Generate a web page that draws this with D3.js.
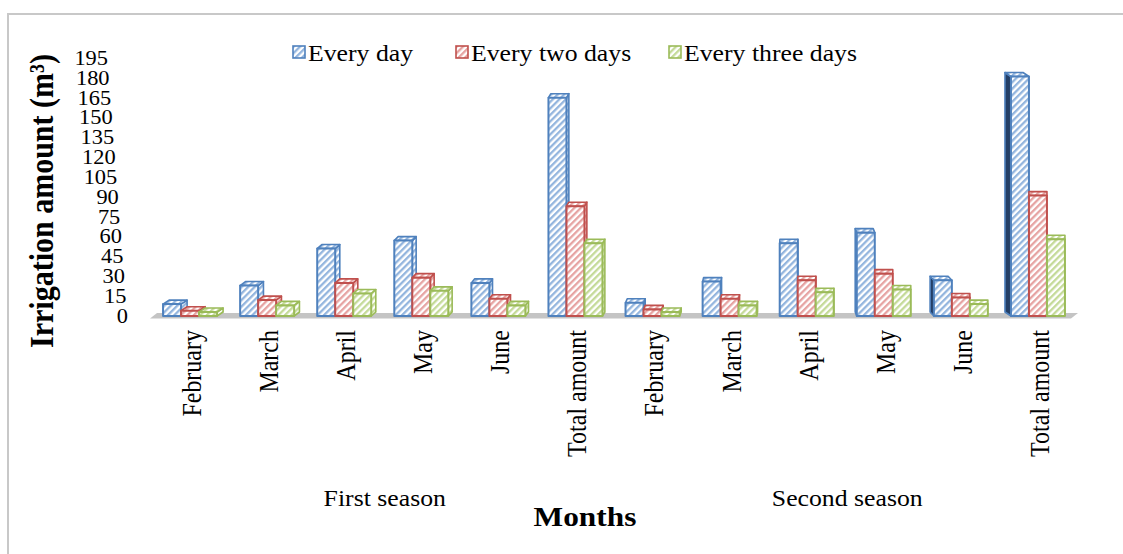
<!DOCTYPE html>
<html>
<head>
<meta charset="utf-8">
<script src="https://cdn.jsdelivr.net/npm/d3@7"></script>
<style>
  html, body { margin: 0; padding: 0; background: #ffffff; }
  svg { display: block; font-family: "Liberation Serif", "Times New Roman", serif; }
</style>
</head>
<body>
<svg id="chart" width="1123" height="554"></svg>
<script>
// ---- data -------------------------------------------------------------
const seasons = ["First season", "Second season"];
const months = ["February", "March", "April", "May", "June", "Total amount"];
const seriesNames = ["Every day", "Every two days", "Every three days"];

// irrigation amount (m3), first season months then second season months
const everyDay       = [9, 23, 51, 57, 25, 165,   10, 26, 55, 63, 27, 181];
const everyTwoDays   = [4, 12, 25, 29, 13, 83,     5, 13, 27, 32, 14, 91];
const everyThreeDays = [3,  8, 17, 19,  8, 55,     3,  8, 18, 20,  9, 58];

const yTickValues = [0, 15, 30, 45, 60, 75, 90, 105, 120, 135, 150, 165, 180, 195];

// ---- style ------------------------------------------------------------
const seriesColors = ["#4F81BD", "#C0504D", "#9BBB59"];
const stripeColors = ["#93B5DE", "#E6A3A2", "#C4DA98"];
const darkSide = "#243F66";
const SX = 1.12;          // horizontal text stretch
const VPX = 830, K = 0.0095, DY = -4;  // perspective of the 3-D boxes

const svg = d3.select("#chart");
const seriesValues = [everyDay, everyTwoDays, everyThreeDays];

// chart frame (top and left edges)
svg.append("path")
  .attr("d", "M8,554V14H1123")
  .attr("fill", "none").attr("stroke", "#C8C8C8").attr("stroke-width", 2);

// hatch fills
const defs = svg.append("defs");
seriesNames.forEach((s, i) => {
  const p = defs.append("pattern")
    .attr("id", "hatch" + i)
    .attr("patternUnits", "userSpaceOnUse")
    .attr("width", 4.6).attr("height", 4.6)
    .attr("patternTransform", "rotate(45)");
  p.append("rect").attr("width", 4.6).attr("height", 4.6).attr("fill", "#ffffff");
  p.append("rect").attr("width", 2.3).attr("height", 4.6).attr("fill", stripeColors[i]);
});

// ---- scales -----------------------------------------------------------
const slots = d3.range(seasons.length * months.length);
const x = d3.scaleBand().domain(slots).range([153.5, 1078.5]);
const y = d3.scaleLinear().domain([0, 195]).range([316, 58]);
const monthOf = k => months[k % months.length];

// floor of the plot
svg.append("path")
  .attr("d", `M150,318.5L1071,318.5L1078,313L157,313Z`)
  .attr("fill", "#C4C4C4");

// ---- y axis (slanted by perspective) ----------------------------------
const tickShift = d3.scaleLinear().domain([0, 195]).range([128, 108]);
const yAxis = svg.append("g")
  .call(d3.axisLeft(y).tickValues(yTickValues).tickSize(0).tickPadding(0));
yAxis.select(".domain").remove();
yAxis.selectAll(".tick")
  .attr("transform", d => `translate(${tickShift(d)},${y(d)}) scale(${SX},1)`);
yAxis.selectAll(".tick text")
  .attr("x", 0).attr("dy", "0.34em")
  .attr("fill", "#000").attr("font-size", 20)
  .attr("font-family", "Liberation Serif, Times New Roman, serif");

// ---- bars -------------------------------------------------------------
const groups = svg.append("g").selectAll("g.slot")
  .data(slots).join("g").attr("class", "slot");

groups.each(function (k) {
  const g = d3.select(this);
  const cx = x(k) + x.bandwidth() / 2;
  const dx = (VPX - cx) * K;
  const inner = d3.scaleBand().domain(d3.range(seriesNames.length))
    .range([cx - 29, cx + 25]);
  seriesNames.forEach((s, j) => {
    const v = seriesValues[j][k];
    const x0 = inner(j), x1 = x0 + inner.bandwidth();
    const yt = y(v), yb = y(0);
    const fill = `url(#hatch${j})`, stroke = seriesColors[j];
    const poly = pts => "M" + pts.map(p => p.join(",")).join("L") + "Z";
    if (dx > 0) {
      g.append("path")
        .attr("d", poly([[x1, yt], [x1 + dx, yt + DY], [x1 + dx, yb + DY], [x1, yb]]))
        .attr("fill", fill).attr("stroke", stroke).attr("stroke-width", 1.6)
        .attr("stroke-linejoin", "round");
    } else if (j === 0) {
      const w = dx * 3;
      g.append("path")
        .attr("d", poly([[x0, yt], [x0 + w, yt + DY], [x0 + w, yb + DY], [x0, yb]]))
        .attr("fill", darkSide).attr("stroke", stroke).attr("stroke-width", 1.6)
        .attr("stroke-linejoin", "round");
    }
    const tdx = dx > 0 ? dx : (j === 0 ? dx * 3 : 0);
    g.append("path")
      .attr("d", poly([[x0, yt], [x1, yt], [x1 + tdx, yt + DY], [x0 + tdx, yt + DY]]))
      .attr("fill", fill).attr("stroke", stroke).attr("stroke-width", 1.6)
      .attr("stroke-linejoin", "round");
    g.append("rect")
      .attr("x", x0).attr("y", yt)
      .attr("width", x1 - x0).attr("height", yb - yt)
      .attr("fill", fill).attr("stroke", stroke).attr("stroke-width", 2)
      .attr("stroke-linejoin", "round");
  });
});

// ---- x axis labels ----------------------------------------------------
const xAxis = svg.append("g")
  .call(d3.axisBottom(x).tickFormat(monthOf).tickSize(0).tickPadding(0));
xAxis.select(".domain").remove();
xAxis.selectAll(".tick")
  .attr("transform", d => `translate(${x(d) + x.bandwidth() / 2},330) scale(${SX},1)`);
xAxis.selectAll(".tick text")
  .attr("y", 0).attr("x", 0).attr("dy", "0.33em")
  .attr("transform", "rotate(-90)")
  .attr("text-anchor", "end")
  .attr("fill", "#000").attr("font-size", 24)
  .attr("font-family", "Liberation Serif, Times New Roman, serif");

// season names under each half
seasons.forEach((s, i) => {
  const first = i * months.length, last = first + months.length - 1;
  const cxs = (x(first) + x(last) + x.bandwidth()) / 2;
  svg.append("text")
    .attr("transform", `translate(${cxs},506) scale(${SX},1)`)
    .attr("text-anchor", "middle").attr("font-size", 23)
    .text(s);
});

// axis titles
svg.append("text")
  .attr("transform", `translate(585,526) scale(${SX},1)`)
  .attr("text-anchor", "middle").attr("font-size", 28).attr("font-weight", "bold")
  .text("Months");

svg.append("text")
  .attr("transform", `translate(41,201) scale(${SX},1) rotate(-90)`)
  .attr("text-anchor", "middle").attr("dy", "0.35em")
  .attr("font-size", 30).attr("font-weight", "bold")
  .text("Irrigation amount (m³)");

// ---- legend -----------------------------------------------------------
const legendX = [293, 456, 669];
const legend = svg.append("g").selectAll("g")
  .data(seriesNames).join("g")
  .attr("transform", (d, i) => `translate(${legendX[i]},0)`);
legend.append("rect")
  .attr("x", 0).attr("y", 46).attr("width", 12).attr("height", 12)
  .attr("fill", (d, i) => `url(#hatch${i})`)
  .attr("stroke", (d, i) => seriesColors[i]).attr("stroke-width", 1.6);
legend.append("text")
  .attr("transform", `translate(15,61) scale(${SX},1)`)
  .attr("font-size", 23)
  .text(d => d);
</script>
</body>
</html>
